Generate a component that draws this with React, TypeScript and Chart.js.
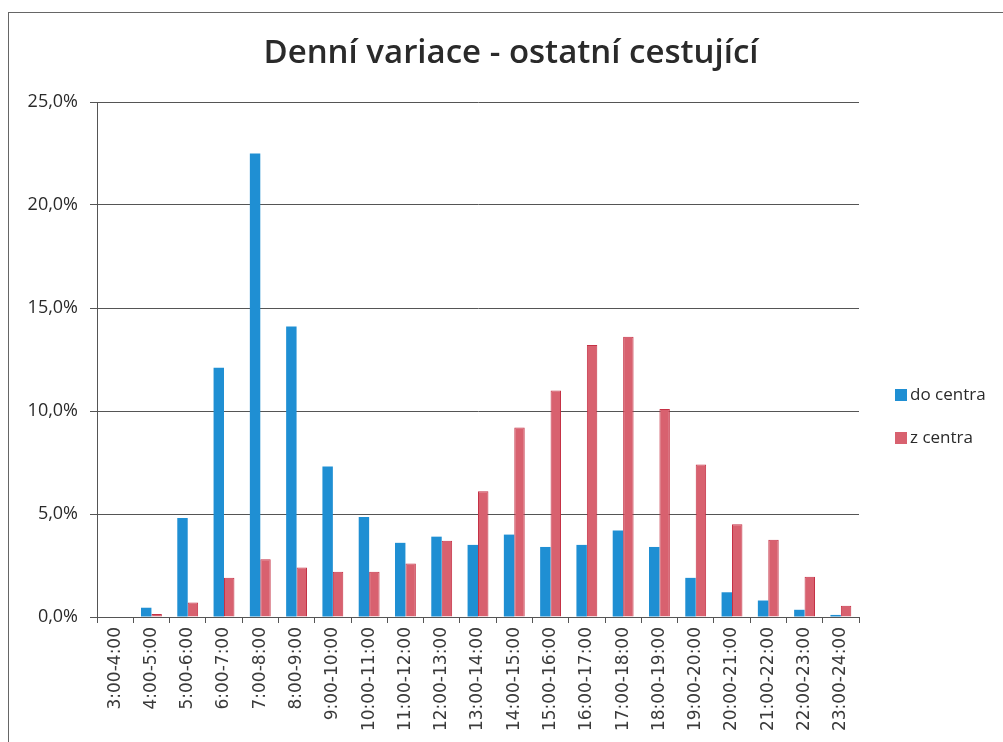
import React, { useEffect, useRef } from 'react';
import { Chart, registerables } from 'chart.js';

Chart.register(...registerables);

const chartTitle = 'Denní variace - ostatní cestující';
const categories = [
  '3:00-4:00', '4:00-5:00', '5:00-6:00', '6:00-7:00', '7:00-8:00', '8:00-9:00',
  '9:00-10:00', '10:00-11:00', '11:00-12:00', '12:00-13:00', '13:00-14:00',
  '14:00-15:00', '15:00-16:00', '16:00-17:00', '17:00-18:00', '18:00-19:00',
  '19:00-20:00', '20:00-21:00', '21:00-22:00', '22:00-23:00', '23:00-24:00',
];
const seriesNames = ['do centra', 'z centra'];
const doCentra = [0, 0.45, 4.8, 12.1, 22.5, 14.1, 7.3, 4.85, 3.6, 3.9, 3.5, 4.0, 3.4, 3.5, 4.2, 3.4, 1.9, 1.2, 0.8, 0.35, 0.1];
const zCentra = [0, 0.15, 0.7, 1.9, 2.8, 2.4, 2.2, 2.2, 2.6, 3.7, 6.1, 9.2, 11.0, 13.2, 13.6, 10.1, 7.4, 4.5, 3.75, 1.95, 0.55];
const yMax = 25;
const yStep = 5;

const BLUE = '#1f8fd3';
const RED = '#d8616f';
const RED_BORDER = '#c53145';

const overlayPlugin = {
  id: 'overlay',
  afterDraw(chart: any) {
    const ctx = chart.ctx;
    ctx.save();
    // title
    ctx.fillStyle = '#2a2a2a';
    ctx.font = '600 33px "Open Sans"';
    ctx.textAlign = 'center';
    ctx.textBaseline = 'alphabetic';
    ctx.fillText(chartTitle, 511, 63);
    // legend
    const items = [
      { label: seriesNames[0], color: BLUE, y: 395 },
      { label: seriesNames[1], color: RED, y: 438 },
    ];
    ctx.font = '17px "Open Sans"';
    ctx.textAlign = 'left';
    ctx.textBaseline = 'middle';
    items.forEach((it) => {
      ctx.fillStyle = it.color;
      ctx.fillRect(895, it.y - 6, 12, 12);
      ctx.fillStyle = '#2a2a2a';
      ctx.fillText(it.label, 910, it.y);
    });
    ctx.restore();
  },
};

export default function App() {
  const canvasRef = useRef<HTMLCanvasElement | null>(null);

  useEffect(() => {
    if (!canvasRef.current) return;
    const chart = new Chart(canvasRef.current, {
      type: 'bar',
      data: {
        labels: categories,
        datasets: [
          {
            label: seriesNames[0],
            data: doCentra,
            backgroundColor: BLUE,
            borderWidth: 0,
            categoryPercentage: 0.575,
            barPercentage: 1,
          },
          {
            label: seriesNames[1],
            data: zCentra,
            backgroundColor: RED,
            borderColor: RED_BORDER,
            borderWidth: 1,
            borderSkipped: 'bottom',
            categoryPercentage: 0.575,
            barPercentage: 1,
          },
        ],
      },
      options: {
        animation: false,
        responsive: true,
        maintainAspectRatio: false,
        layout: { padding: { top: 102, right: 144, left: 0, bottom: 0 } },
        plugins: {
          legend: { display: false },
          title: { display: false },
          tooltip: { enabled: false },
        },
        scales: {
          x: {
            offset: true,
            grid: {
              display: true,
              drawOnChartArea: false,
              drawTicks: true,
              tickLength: 6,
              color: '#555',
              offset: true,
            },
            border: { display: true, color: '#555', width: 1 },
            ticks: {
              autoSkip: false,
              minRotation: 90,
              maxRotation: 90,
              padding: 4,
              color: '#3a3a3a',
              font: { family: '"DejaVu Sans"', size: 17 },
            },
            afterFit(scale: any) {
              scale.height = 125;
            },
          },
          y: {
            min: 0,
            max: yMax,
            ticks: {
              stepSize: yStep,
              padding: 12,
              color: '#2a2a2a',
              font: { family: '"Open Sans"', size: 18 },
              callback: (v: any) => Number(v).toFixed(1).replace('.', ',') + '%',
            },
            grid: { color: '#555', lineWidth: 1, tickLength: 7 },
            border: { display: true, color: '#555', width: 1 },
            afterFit(scale: any) {
              scale.width = 97;
            },
          },
        },
      },
      plugins: [overlayPlugin],
    });
    return () => chart.destroy();
  }, []);

  return (
    <div style={{ position: 'fixed', left: 0, top: 0, width: 1003, height: 742, background: '#fff' }}>
      <div
        style={{
          position: 'absolute',
          left: 8,
          top: 12,
          width: 1100,
          height: 800,
          borderLeft: '1.5px solid #666',
          borderTop: '1.5px solid #666',
        }}
      />
      <canvas ref={canvasRef} style={{ position: 'absolute', left: 0, top: 0 }} />
    </div>
  );
}
